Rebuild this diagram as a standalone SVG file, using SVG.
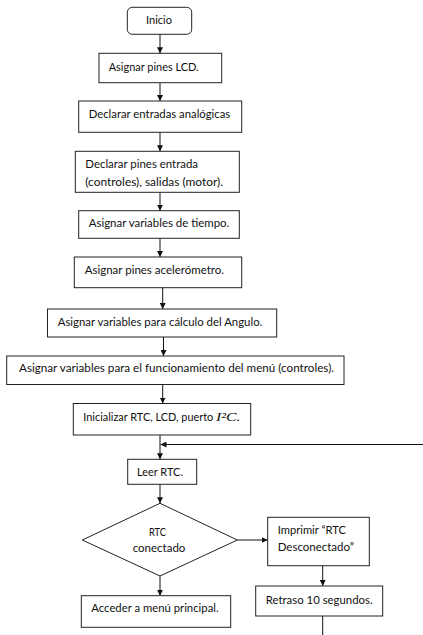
<svg xmlns="http://www.w3.org/2000/svg" width="423" height="635" viewBox="0 0 423 635">
<style>
.b{fill:#fff;stroke:#222;stroke-width:1}
.t{font-family:Lato,"Liberation Sans",Arial,sans-serif;font-size:11px;fill:#111}
.m{font-family:"Liberation Serif","DejaVu Serif",serif;font-style:italic;font-size:12px;fill:#111}
.c{stroke:#111;stroke-width:1;fill:none}
</style>
<defs>
<marker id="ah" viewBox="0 0 10 10" refX="10" refY="5" markerWidth="6" markerHeight="6" orient="auto" markerUnits="userSpaceOnUse">
<path d="M0,0 L10,5 L0,10 Z" fill="#111"/>
</marker>
</defs>
<rect width="423" height="635" fill="#fff"/>
<g id="connectors">
<line class="c" x1="160" y1="34.3" x2="160" y2="53.3" marker-end="url(#ah)"/>
<line class="c" x1="160" y1="82.7" x2="160" y2="101" marker-end="url(#ah)"/>
<line class="c" x1="160" y1="132.3" x2="160" y2="151.3" marker-end="url(#ah)"/>
<line class="c" x1="160" y1="192.3" x2="160" y2="210.7" marker-end="url(#ah)"/>
<line class="c" x1="160" y1="238.3" x2="160" y2="257" marker-end="url(#ah)"/>
<line class="c" x1="162.7" y1="287.7" x2="162.7" y2="309" marker-end="url(#ah)"/>
<line class="c" x1="163.5" y1="337" x2="163.5" y2="356" marker-end="url(#ah)"/>
<line class="c" x1="162.7" y1="384.5" x2="162.7" y2="403.5" marker-end="url(#ah)"/>
<line class="c" x1="160" y1="435" x2="160" y2="459.3" marker-end="url(#ah)"/>
<line class="c" x1="423" y1="444.5" x2="160.5" y2="444.5" marker-end="url(#ah)"/>
<line class="c" x1="160" y1="484.3" x2="160" y2="503.3" marker-end="url(#ah)"/>
<line class="c" x1="237.3" y1="540" x2="267.7" y2="540" marker-end="url(#ah)"/>
<line class="c" x1="160" y1="576" x2="160" y2="595.7" marker-end="url(#ah)"/>
<line class="c" x1="322.7" y1="565.7" x2="322.7" y2="586" marker-end="url(#ah)"/>
<line class="c" x1="322.7" y1="616" x2="322.7" y2="635"/>
</g>
<g id="inicio">
<rect class="b" x="127.3" y="7.3" width="64.4" height="27" rx="5"/>
<text class="t" x="146" y="24.3" textLength="26" lengthAdjust="spacingAndGlyphs">Inicio</text>
</g>
<g id="n1">
<rect class="b" x="99" y="53.3" width="122.7" height="29.4"/>
<text class="t" x="108.7" y="71" textLength="90" lengthAdjust="spacingAndGlyphs">Asignar pines LCD.</text>
</g>
<g id="n2">
<rect class="b" x="78.7" y="101" width="163" height="31.3"/>
<text class="t" x="88.7" y="118" textLength="141.6" lengthAdjust="spacingAndGlyphs">Declarar entradas analógicas</text>
</g>
<g id="n3">
<rect class="b" x="75.3" y="151.3" width="164" height="41"/>
<text class="t" x="85.3" y="168.3" textLength="112.7" lengthAdjust="spacingAndGlyphs">Declarar pines entrada</text>
<text class="t" x="85.3" y="186.3" textLength="137.7" lengthAdjust="spacingAndGlyphs">(controles), salidas (motor).</text>
</g>
<g id="n4">
<rect class="b" x="78.7" y="210.7" width="160.6" height="27.6"/>
<text class="t" x="88.7" y="227.3" textLength="140.6" lengthAdjust="spacingAndGlyphs">Asignar variables de tiempo.</text>
</g>
<g id="n5">
<rect class="b" x="74.3" y="257" width="167.4" height="30.7"/>
<text class="t" x="84.7" y="274" textLength="139.3" lengthAdjust="spacingAndGlyphs">Asignar pines acelerómetro.</text>
</g>
<g id="n6">
<rect class="b" x="47.5" y="309" width="229.2" height="28"/>
<text class="t" x="57.7" y="326.3" textLength="204.6" lengthAdjust="spacingAndGlyphs">Asignar variables para cálculo del Angulo.</text>
</g>
<g id="n7">
<rect class="b" x="6.7" y="356" width="337.3" height="28.5"/>
<text class="t" x="19" y="371.5" textLength="315" lengthAdjust="spacingAndGlyphs">Asignar variables para el funcionamiento del menú (controles).</text>
</g>
<g id="n8">
<rect class="b" x="73.3" y="403.5" width="177.4" height="31.5"/>
<text class="t" x="83.3" y="421" textLength="130" lengthAdjust="spacingAndGlyphs">Inicializar RTC, LCD, puerto</text>
<text class="m" x="216" y="421" textLength="24.5" lengthAdjust="spacingAndGlyphs">I²C.</text>
</g>
<g id="n9">
<rect class="b" x="127.7" y="459.3" width="69" height="25"/>
<text class="t" x="137" y="476" textLength="46" lengthAdjust="spacingAndGlyphs">Leer RTC.</text>
</g>
<g id="decision">
<polygon class="b" points="160,503.3 237.3,540 160,576 82.3,540"/>
<text class="t" x="149" y="535.7" textLength="17" lengthAdjust="spacingAndGlyphs">RTC</text>
<text class="t" x="132.7" y="552.3" textLength="52.7" lengthAdjust="spacingAndGlyphs">conectado</text>
</g>
<g id="imprimir">
<rect class="b" x="267.7" y="517.3" width="101.6" height="48.4"/>
<text class="t" x="277.7" y="534.3" textLength="68.3" lengthAdjust="spacingAndGlyphs">Imprimir “RTC</text>
<text class="t" x="277.7" y="550.7" textLength="76.3" lengthAdjust="spacingAndGlyphs">Desconectado”</text>
</g>
<g id="retraso">
<rect class="b" x="255.7" y="586" width="127" height="30"/>
<text class="t" x="265.7" y="604" textLength="107" lengthAdjust="spacingAndGlyphs">Retraso 10 segundos.</text>
</g>
<g id="acceder">
<rect class="b" x="81.3" y="595.7" width="149.4" height="31.6"/>
<text class="t" x="91.3" y="611.7" textLength="127.3" lengthAdjust="spacingAndGlyphs">Acceder a menú principal.</text>
</g>
</svg>
